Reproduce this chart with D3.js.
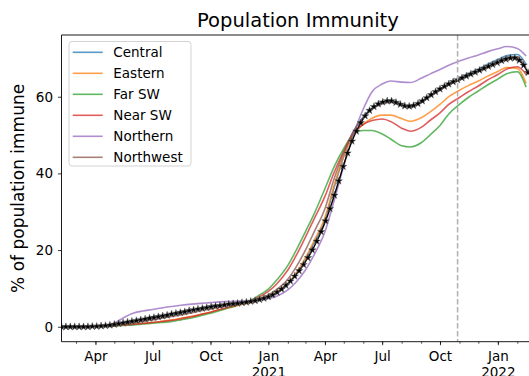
<!DOCTYPE html>
<html><head><meta charset="utf-8">
<script src="https://cdn.jsdelivr.net/npm/d3@7"></script>
<style>body{margin:0;background:#fff}svg{display:block;font-family:"DejaVu Sans",sans-serif}</style>
</head><body><svg id="c" width="529" height="376"></svg>
<script>
// ---------- data ----------
const regionDates = ["2020-02-07","2020-03-01","2020-03-15","2020-04-01","2020-04-15","2020-05-01","2020-05-15","2020-06-01","2020-06-15","2020-07-01","2020-07-15","2020-08-01","2020-08-15","2020-09-01","2020-09-15","2020-10-01","2020-10-15","2020-11-01","2020-11-15","2020-12-01","2020-12-15","2021-01-01","2021-01-15","2021-02-01","2021-02-15","2021-03-01","2021-03-15","2021-04-01","2021-04-15","2021-05-01","2021-05-15","2021-06-01","2021-06-15","2021-07-01","2021-07-15","2021-08-01","2021-08-15","2021-09-01","2021-09-15","2021-10-01","2021-10-15","2021-11-01","2021-11-15","2021-12-01","2021-12-15","2022-01-01","2022-01-15","2022-02-01","2022-02-15"];
const central   = [0,0,0,0.1,0.3,0.6,1.0,1.5,1.8,2.3,2.7,3.2,3.7,4.2,4.7,5.1,5.5,5.9,6.2,6.5,7.0,7.8,8.9,11.0,13.8,17.5,22.0,27.8,36.0,44.5,50.5,54.8,57.0,58.4,58.8,58.0,57.5,58.7,60.3,62.0,63.4,64.8,66.0,67.2,68.4,69.7,70.7,71.0,68.5];
const eastern   = [0,0,0,0.05,0.15,0.3,0.5,0.7,0.9,1.1,1.4,1.8,2.2,2.7,3.2,3.8,4.4,5.0,5.6,6.2,6.9,7.9,9.2,11.3,14.2,18.0,22.5,28.5,36.5,44.5,49.8,52.8,54.4,55.2,55.2,54.3,53.6,54.5,56.0,58.0,60.0,61.7,62.9,64.1,65.3,66.6,67.6,67.4,63.5];
const farSW     = [0,0,0,0.05,0.1,0.2,0.35,0.5,0.7,0.9,1.1,1.4,1.8,2.3,2.9,3.5,4.2,5.0,5.8,6.6,8.0,9.8,12.3,16.0,20.2,24.8,29.5,36.0,41.5,46.5,50.0,51.2,51.2,50.3,48.9,47.2,46.9,48.0,50.0,52.5,55.5,58.0,59.8,61.5,63.0,64.6,66.0,66.5,62.5];
const nearSW    = [0,0,0,0.05,0.15,0.3,0.45,0.65,0.85,1.1,1.35,1.7,2.1,2.6,3.2,3.8,4.5,5.2,5.9,6.6,7.6,9.2,11.3,14.8,18.8,23.4,28.2,34.0,40.0,45.8,50.2,52.8,53.8,54.2,53.5,51.8,51.0,52.0,53.8,55.8,58.0,59.8,61.3,62.8,64.3,65.8,67.2,67.8,65.8];
const northern  = [0,0,0,0.1,0.3,0.9,2.3,3.6,4.1,4.5,4.9,5.3,5.6,5.9,6.1,6.3,6.5,6.6,6.7,6.8,7.0,7.3,8.0,9.6,11.8,14.8,18.8,24.8,32.5,42.0,49.5,56.8,61.3,63.3,64.1,63.8,63.7,64.8,65.9,67.1,68.2,69.3,70.1,70.9,71.7,72.5,73.1,72.6,70.6];
const northwest = [0,0,0,0.05,0.2,0.45,0.75,1.1,1.4,1.8,2.2,2.7,3.1,3.6,4.1,4.6,5.1,5.6,6.0,6.5,7.2,8.3,9.8,12.4,15.8,20.0,24.8,30.8,38.3,45.5,50.6,54.6,56.8,58.1,58.5,57.8,57.3,58.4,60.0,61.7,63.1,64.4,65.6,66.8,68.0,69.2,70.2,70.4,67.5];

// weekly observed estimate (black line with star markers), first week 2020-02-07
const observedStart = "2020-02-07";
const observedStepDays = 7;
const observed = [0.0,0.0,0.0,0.0,0.0,0.0,0.0,0.1,0.1,0.2,0.3,0.4,0.6,0.8,1.0,1.2,1.4,1.6,1.8,2.0,2.2,2.4,2.6,2.8,3.0,3.3,3.5,3.7,3.9,4.2,4.4,4.6,4.8,5.0,5.2,5.4,5.5,5.7,5.9,6.0,6.1,6.3,6.4,6.6,6.8,7.1,7.4,7.8,8.3,9.0,9.8,10.8,11.9,13.2,14.6,16.2,18.0,20.0,22.3,24.8,27.6,30.8,34.3,38.0,41.8,45.3,48.4,51.0,53.2,55.0,56.4,57.4,58.1,58.6,58.9,58.9,58.5,58.0,57.6,57.5,57.7,58.2,58.9,59.7,60.5,61.3,62.0,62.7,63.3,63.9,64.4,64.9,65.4,65.9,66.4,66.9,67.4,67.9,68.4,68.9,69.4,69.8,70.1,70.1,69.5,68.2,66.3];

const seriesNames  = ["Central","Eastern","Far SW","Near SW","Northern","Northwest"];
const seriesValues = [central, eastern, farSW, nearSW, northern, northwest];
const seriesColors = ["#1f77b4","#ff7f0e","#2ca02c","#d62728","#9467bd","#8c564b"];

const yTicks = [0,20,40,60];
const xMajorTicks  = ["2020-04-01","2020-07-01","2020-10-01","2021-01-01","2021-04-01","2021-07-01","2021-10-01","2022-01-01"];
const xTickLabels  = ["Apr","Jul","Oct","Jan\n2021","Apr","Jul","Oct","Jan\n2022"];
const cutoffDate = "2021-10-29";
const titleText = "Population Immunity";
const yLabelText = "% of population immune";

// ---------- layout ----------
const parse = d3.utcParse("%Y-%m-%d");
const svg = d3.select("#c");
const L = 61.5, R = 534.3, T = 35, B = 341.7;

const x = d3.scaleUtc().domain([parse("2020-02-07"), parse("2022-02-28")]).range([L, R]);
const y = d3.scaleLinear().domain([-3.9, 76.1]).range([B, T]);

svg.append("clipPath").attr("id","clip").append("rect")
  .attr("x", L).attr("y", T).attr("width", R-L).attr("height", B-T);

const plot = svg.append("g").attr("clip-path","url(#clip)");

// colored region lines
const rDates = regionDates.map(parse);
const line = d3.line().curve(d3.curveMonotoneX)
  .x((d,i) => x(rDates[i])).y(d => y(d));

seriesValues.forEach((vals, k) => {
  plot.append("path").datum(vals)
    .attr("d", line)
    .attr("fill","none")
    .attr("stroke", seriesColors[k])
    .attr("stroke-opacity", 0.75)
    .attr("stroke-width", 1.6);
});

// observed black line
const oStart = parse(observedStart);
const oPts = observed.map((v,i) => [d3.utcDay.offset(oStart, i*observedStepDays), v]);
plot.append("path").datum(oPts)
  .attr("d", d3.line().curve(d3.curveMonotoneX).x(d => x(d[0])).y(d => y(d[1])))
  .attr("fill","none").attr("stroke","#000").attr("stroke-width",1.4);
const star = d3.symbol().type(d3.symbolStar).size(17);
plot.selectAll("path.mk").data(oPts).join("path")
  .attr("class","mk")
  .attr("d", star)
  .attr("transform", d => `translate(${x(d[0])},${y(d[1])})`)
  .attr("fill","#000").attr("stroke","#666").attr("stroke-width",0.5);

// dashed cutoff
svg.append("line")
  .attr("x1", x(parse(cutoffDate))).attr("x2", x(parse(cutoffDate)))
  .attr("y1", T).attr("y2", B)
  .attr("stroke","#b0b0b0").attr("stroke-width",1.5).attr("stroke-dasharray","5.5,2.5");

// axes
const axisFont = 13.5;
const gxMinor = svg.append("g").attr("transform",`translate(0,${B})`)
  .call(d3.axisBottom(x).tickValues(d3.utcMonth.range(parse("2020-03-01"), parse("2022-03-01")))
    .tickSize(2).tickFormat(""));
gxMinor.select(".domain").remove();
gxMinor.selectAll("line").attr("stroke","#000").attr("stroke-width",0.7);

const gx = svg.append("g").attr("transform",`translate(0,${B})`)
  .call(d3.axisBottom(x).tickValues(xMajorTicks.map(parse)).tickSize(3.5).tickPadding(5)
    .tickFormat((d,i) => xTickLabels[i]));
gx.select(".domain").remove();
gx.selectAll("line").attr("stroke","#000").attr("stroke-width",0.8);
gx.selectAll("text").each(function(d,i){
  const t = d3.select(this);
  const parts = xTickLabels[i].split("\n");
  t.text(null).attr("font-size", axisFont).attr("font-family","DejaVu Sans").attr("fill","#000").attr("dy", null).attr("y", 0);
  parts.forEach((p,j) => t.append("tspan").attr("x",0).attr("y", 19.5 + j*15.5).text(p));
});

const gy = svg.append("g").attr("transform",`translate(${L},0)`)
  .call(d3.axisLeft(y).tickValues(yTicks).tickSize(3.5).tickPadding(5));
gy.select(".domain").remove();
gy.selectAll("line").attr("stroke","#000").attr("stroke-width",0.8);
gy.selectAll("text").attr("font-size", axisFont).attr("font-family","DejaVu Sans").attr("fill","#000");

// spines (left, top, bottom)
svg.append("path")
  .attr("d", `M${R},${T}H${L}V${B}H${R}`)
  .attr("fill","none").attr("stroke","#000").attr("stroke-width",0.9);

// title and y label
svg.append("text").attr("x", (L+R)/2).attr("y", 27).attr("text-anchor","middle")
  .attr("font-size",19.5).attr("fill","#000").text(titleText);
svg.append("text").attr("transform",`translate(18,${(T+B)/2}) rotate(-90)`)
  .attr("text-anchor","middle").attr("dy","0.35em").attr("font-size",17).attr("fill","#000").text(yLabelText);

// legend
const lg = svg.append("g");
lg.append("rect").attr("x",69).attr("y",41.5).attr("width",122).attr("height",124.5)
  .attr("rx",3).attr("fill","#fff").attr("fill-opacity",0.8)
  .attr("stroke","#d3d3d3").attr("stroke-width",1);
seriesNames.forEach((n,i) => {
  const yy = 52.3 + i*21;
  lg.append("line").attr("x1",72.7).attr("x2",102.7).attr("y1",yy).attr("y2",yy)
    .attr("stroke",seriesColors[i]).attr("stroke-opacity",0.75).attr("stroke-width",1.6);
  lg.append("text").attr("x",113.3).attr("y",yy).attr("dy","0.35em")
    .attr("font-size",13.5).attr("fill","#000").text(n);
});
</script></body></html>
